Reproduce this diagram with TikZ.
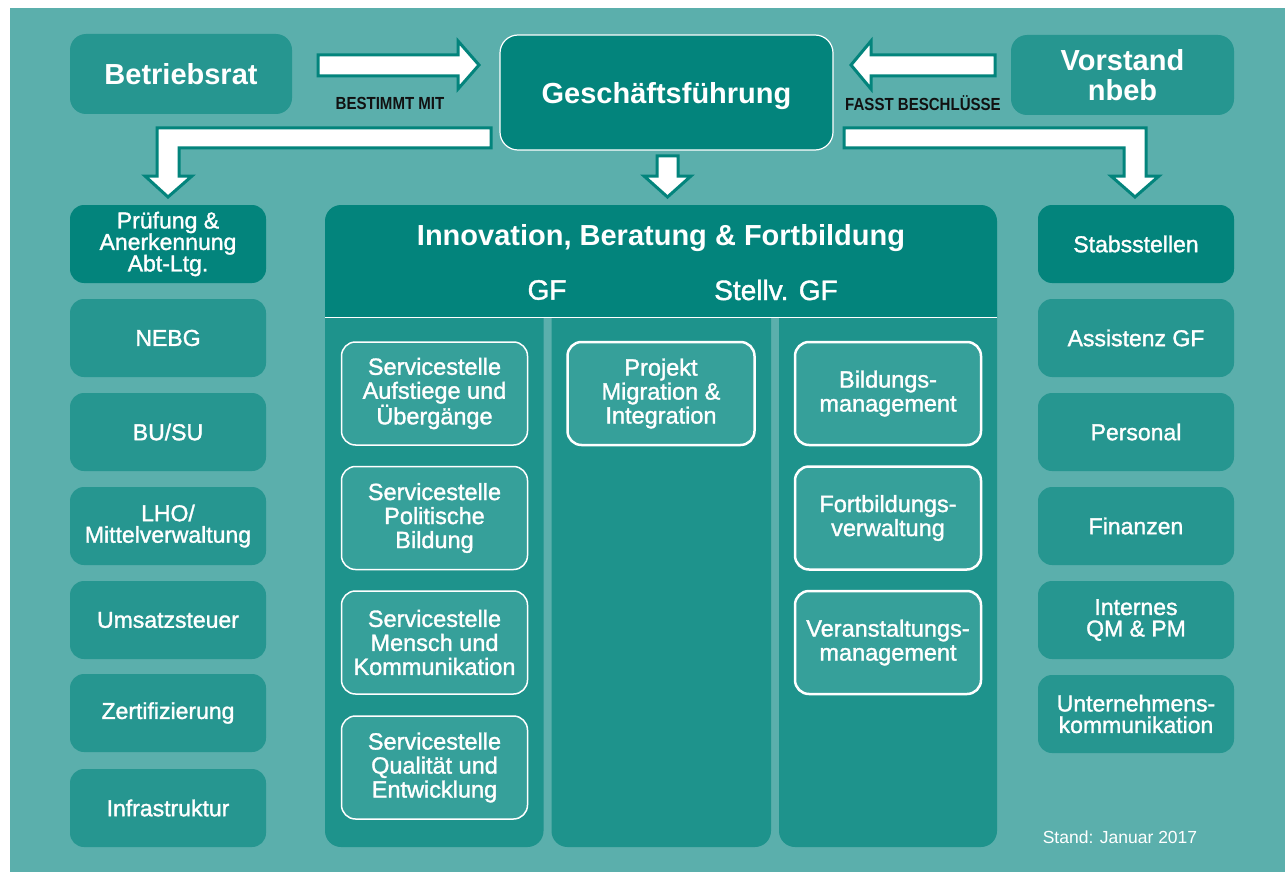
\documentclass[tikz,border=0pt]{standalone}
\usepackage{fontspec}
\setmainfont{Liberation Sans}
\newfontfamily\medfont[FakeBold=1.4]{Liberation Sans}
\newfontfamily\condfont[FakeStretch=0.86]{Liberation Sans}
\definecolor{bg}{HTML}{5BAFAC}
\definecolor{dark}{HTML}{03847C}
\definecolor{mid}{HTML}{269690}
\definecolor{colfill}{HTML}{1E938C}
\definecolor{inner}{HTML}{36A09A}
\definecolor{lbl}{HTML}{111111}
\begin{document}
\begin{tikzpicture}[x=1pt,y=-1pt,
  every node/.style={text=white, align=center, inner sep=0pt},
  topbox/.style={fill=mid, rounded corners=16pt, minimum width=222pt, minimum height=80pt,
    font=\fontsize{29}{30}\selectfont\bfseries},
  sidebox/.style={fill=mid, rounded corners=14pt, minimum width=196pt, minimum height=78pt,
    font=\fontsize{23}{21.5}\selectfont\medfont},
  darkside/.style={sidebox, fill=dark},
  inbox/.style={draw=white, line width=1.5pt, fill=inner, rounded corners=14pt,
    minimum width=186pt, minimum height=103pt, font=\fontsize{23.5}{24}\selectfont\medfont},
  blockarrow/.style={fill=white, draw=dark, line width=3pt, line join=miter},
  arrlabel/.style={text=lbl, font=\fontsize{17.5}{18}\selectfont\condfont\bfseries}
]
\useasboundingbox (0,0) rectangle (1285,872);
\fill[white] (0,0) rectangle (1285,872);
\fill[bg] (10,8) rectangle (1285,872);

% top row
\node[topbox] (br) at (181,74) {Betriebsrat};
\node[draw=white, line width=1.2pt, fill=dark, rounded corners=18pt, minimum width=333pt,
  minimum height=115pt] (gf) at (666.5,92.5) {};
\node[font=\fontsize{29}{30}\selectfont\bfseries] (gft) at (666.5,96) {Geschäftsführung};
\node[topbox, minimum width=223pt] (vs) at (1122.5,75) {Vorstand\\[0pt]nbeb};

% block arrows
\draw[blockarrow] (318,55) -- (458,55) -- (458,41) -- (479,65) -- (458,89) -- (458,76) -- (318,76) -- cycle;
\draw[blockarrow] (995,55) -- (871,55) -- (871,41) -- (851,65) -- (871,89) -- (871,76) -- (995,76) -- cycle;
\draw[blockarrow] (491,128) -- (157,128) -- (157,176) -- (145,176) -- (168,197) -- (192,176) -- (179,176) -- (179,148) -- (491,148) -- cycle;
\draw[blockarrow] (657,156) -- (678,156) -- (678,176) -- (691,176) -- (667.5,197) -- (644,176) -- (657,176) -- cycle;
\draw[blockarrow] (844,128) -- (1146,128) -- (1146,176) -- (1159,176) -- (1135,197) -- (1111,176) -- (1124,176) -- (1124,148) -- (844,148) -- cycle;

\node[arrlabel] (l1) at (390,103) {BESTIMMT MIT};
\node[arrlabel] (l2) at (923,103) {FASST BESCHLÜSSE};

% left column
\node[darkside] (p1) at (168,244) {Prüfung \&\\Anerkennung\\Abt-Ltg.};
\node[sidebox] (p2) at (168,338) {NEBG};
\node[sidebox] (p3) at (168,432) {BU/SU};
\node[sidebox] (p4) at (168,526) {LHO/\\Mittelverwaltung};
\node[sidebox] (p5) at (168,620) {Umsatzsteuer};
\node[sidebox] (p6) at (168,713) {Zertifizierung};
\node[sidebox] (p7) at (168,808) {Infrastruktur};

% right column
\node[darkside] (s1) at (1136,244) {Stabsstellen};
\node[sidebox] (s2) at (1136,338) {Assistenz GF};
\node[sidebox] (s3) at (1136,432) {Personal};
\node[sidebox] (s4) at (1136,526) {Finanzen};
\node[sidebox] (s5) at (1136,620) {Internes\\QM \& PM};
\node[sidebox] (s6) at (1136,714) {Unternehmens-\\kommunikation};

% central block: columns
\fill[colfill, rounded corners=16pt] (325,295) rectangle (543.5,847);
\fill[colfill, rounded corners=16pt] (551.5,295) rectangle (771,847);
\fill[colfill, rounded corners=16pt] (779,295) rectangle (997,847);
% header
\fill[dark] (325,317) -- (325,221) arc[start angle=180, end angle=270, radius=16]
  -- (981,205) arc[start angle=270, end angle=360, radius=16] -- (997,317) -- cycle;
\draw[white, line width=1.5pt] (325,317.5) -- (997,317.5);
\node[font=\fontsize{29}{30}\selectfont\bfseries] (ibf) at (661,238) {Innovation, Beratung \& Fortbildung};
\node[font=\fontsize{28}{30}\selectfont\medfont] (hgf) at (547,290) {GF};
\node[font=\fontsize{28}{30}\selectfont\medfont] (hsgf) at (776,290) {Stellv. GF};

% inner boxes
\node[inbox] (c1) at (434.5,393.5) {Servicestelle\\Aufstiege und\\Übergänge};
\node[inbox] (c2) at (434.5,518) {Servicestelle\\Politische\\Bildung};
\node[inbox] (c3) at (434.5,642.5) {Servicestelle\\Mensch und\\Kommunikation};
\node[inbox] (c4) at (434.5,767.5) {Servicestelle\\Qualität und\\Entwicklung};
\node[inbox, line width=2.5pt, minimum width=187pt] (m1) at (661,393.5) {Projekt\\Migration \&\\Integration};
\node[inbox, line width=2.5pt] (r1) at (888,393.5) {Bildungs-\\management};
\node[inbox, line width=2.5pt] (r2) at (888,518) {Fortbildungs-\\verwaltung};
\node[inbox, line width=2.5pt] (r3) at (888,642.5) {Veranstaltungs-\\management};

\node[font=\fontsize{17.5}{19}\selectfont] (stand) at (1120,837) {Stand: Januar 2017};
\end{tikzpicture}
\end{document}
